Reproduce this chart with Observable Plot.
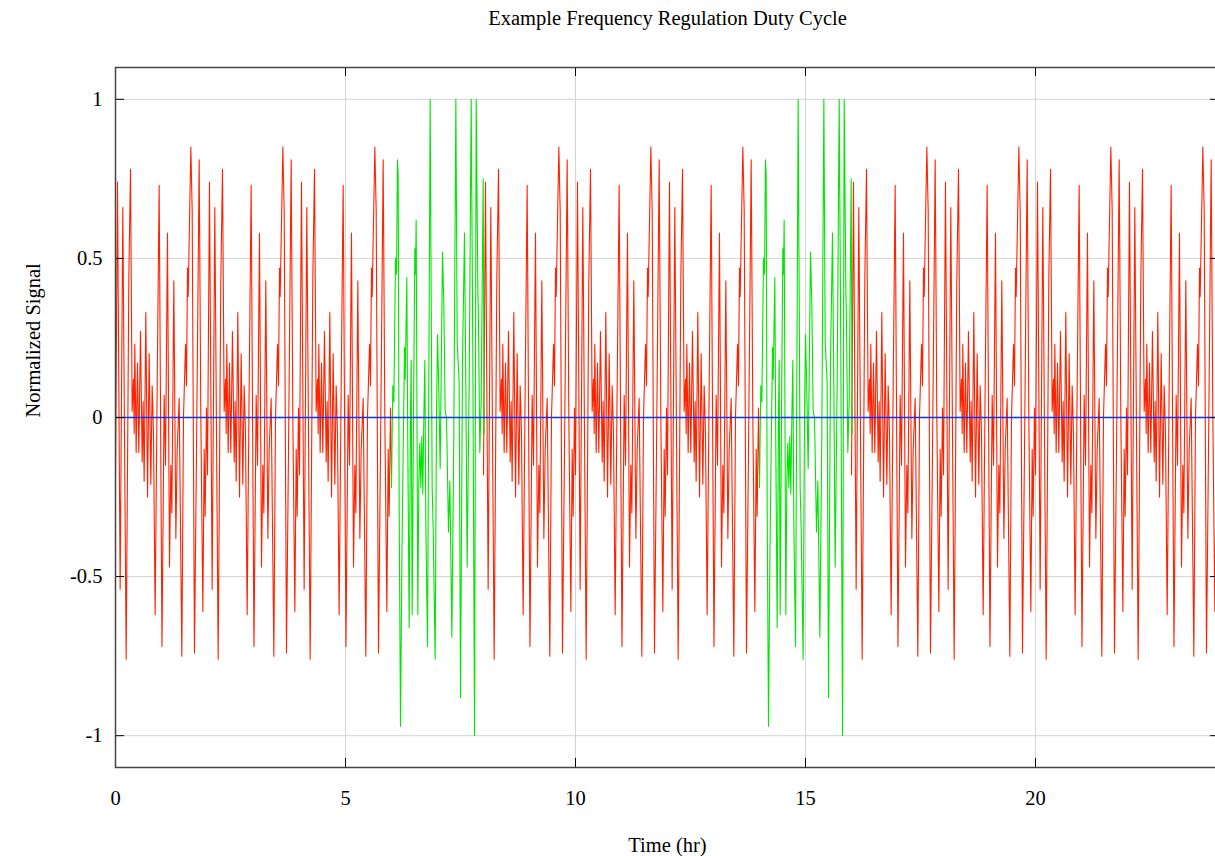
<!DOCTYPE html>
<html>
<head>
<meta charset="utf-8">
<script src="https://cdn.jsdelivr.net/npm/d3@7"></script>
<script src="https://cdn.jsdelivr.net/npm/@observablehq/plot@0.6"></script>
<style>
  html, body { margin: 0; padding: 0; background: #fff; overflow: hidden; }
</style>
</head>
<body>
<div id="chart"></div>
<script>
// ---- Data ----
// One 2-hour cycle of the (red) regulation signal: time offset within cycle (hr) and value
const redCycleTime = [0.000, 0.043, 0.101, 0.159, 0.232, 0.290, 0.326, 0.362, 0.391, 0.406,
  0.420, 0.449, 0.478, 0.507, 0.543, 0.580, 0.601, 0.623, 0.659, 0.696,
  0.732, 0.768, 0.797, 0.826, 0.862, 0.906, 0.949, 1.010, 1.058, 1.087,
  1.130, 1.174, 1.203, 1.225, 1.268, 1.312, 1.341, 1.384, 1.442, 1.478,
  1.522, 1.543, 1.565, 1.580, 1.638, 1.667, 1.717, 1.768, 1.819, 1.855,
  1.899, 1.928, 1.949, 1.978, 2.000];
const redCycleValue = [-0.18, 0.74, -0.54, 0.66, -0.76, 0.44, 0.78, 0.02, 0.12, -0.05,
  0.23, -0.11, 0.17, -0.11, 0.27, -0.14, 0.05, -0.20, 0.33, -0.25,
  0.20, -0.21, 0.10, -0.05, -0.62, 0.10, 0.73, -0.72, 0.07, -0.15,
  0.58, -0.47, -0.15, -0.30, 0.43, -0.38, -0.10, 0.06, -0.75, 0.00,
  0.23, 0.10, 0.47, 0.38, 0.85, 0.65, -0.74, 0.00, 0.81, 0.00,
  -0.61, -0.10, -0.31, 0.03, -0.18];
// Start times (hr) of the red cycles
const redCycleStarts = [0, 2, 4, 8, 10, 12, 16, 18, 20, 22];

// The 2-hour (green) high-amplitude burst: time offset (hr) and value
const greenBurstTime = [0.000, 0.014, 0.029, 0.051, 0.087, 0.109, 0.130, 0.145, 0.167, 0.196,
  0.225, 0.254, 0.283, 0.297, 0.312, 0.333, 0.355, 0.384, 0.413, 0.428,
  0.449, 0.478, 0.507, 0.522, 0.536, 0.572, 0.594, 0.616, 0.638, 0.659,
  0.681, 0.703, 0.725, 0.746, 0.783, 0.804, 0.841, 0.862, 0.884, 0.906,
  0.949, 0.978, 1.000, 1.025, 1.058, 1.109, 1.138, 1.167, 1.196, 1.239,
  1.268, 1.312, 1.355, 1.399, 1.428, 1.471, 1.500, 1.544, 1.587, 1.616,
  1.645, 1.689, 1.732, 1.768, 1.805, 1.841, 1.877, 1.891, 1.920, 1.949,
  1.993, 2.014];
const greenBurstValue = [-0.22, -0.05, 0.10, 0.05, 0.50, 0.45, 0.81, 0.76, -0.30, -0.97,
  -0.46, -0.10, 0.22, 0.12, 0.25, 0.44, -0.10, -0.66, 0.00, 0.18,
  -0.62, 0.00, 0.53, 0.45, 0.62, -0.62, -0.20, -0.08, -0.22, -0.06,
  -0.24, 0.00, 0.18, -0.33, -0.72, -0.10, 1.00, 0.40, -0.22, -0.35,
  -0.76, 0.00, 0.26, 0.11, -0.16, 0.52, 0.35, 0.02, 0.00, -0.36,
  -0.20, -0.69, -0.05, 1.00, 0.24, 0.11, -0.88, 0.18, 0.58, 0.10,
  -0.47, 0.11, 1.00, 0.20, -1.00, 1.00, 0.40, 0.30, -0.11, 0.05,
  0.75, -0.05];
// Start times (hr) of the green bursts
const greenBurstStarts = [6, 14];

// Baseline (blue)
const baselineTime = [0, 24];
const baselineValue = [0, 0];

const xTicks = [0, 5, 10, 15, 20];
const yTicks = [-1, -0.5, 0, 0.5, 1];
const xTickLabels = ["0", "5", "10", "15", "20"];
const yTickLabels = ["-1", "-0.5", "0", "0.5", "1"];

const titleText = "Example Frequency Regulation Duty Cycle";
const xLabel = "Time (hr)";
const yLabel = "Normalized Signal";

// ---- Build tables ----
const redRows = [];
redCycleStarts.forEach(s => {
  const seg = s < 6 ? 0 : s < 14 ? 1 : 2;
  redCycleTime.forEach((t, i) => redRows.push({t: s + t, v: redCycleValue[i], seg}));
});
const greenRows = [];
greenBurstStarts.forEach((s, k) => {
  greenBurstTime.forEach((t, i) => greenRows.push({t: s + t, v: greenBurstValue[i], seg: k}));
});
const baseRows = baselineTime.map((t, i) => ({t, v: baselineValue[i]}));
const xFmt = d => xTickLabels[xTicks.indexOf(d)];
const yFmt = d => yTickLabels[yTicks.indexOf(d)];

// ---- Layout ----
const W = 1215, H = 856;
const mL = 115, mT = 67, mB = 89, mR = -4;
const frameW = W - mR - mL;
const frameH = H - mT - mB;
const font = "'Liberation Serif', 'Times New Roman', serif";

const chart = Plot.plot({
  width: W,
  height: H,
  marginLeft: mL,
  marginRight: mR,
  marginTop: mT,
  marginBottom: mB,
  style: {fontFamily: font, fontSize: "20px", color: "#000", background: "#fff", overflow: "visible"},
  x: {domain: [0, 24], label: null},
  y: {domain: [-1.1, 1.1], label: null},
  marks: [
    Plot.gridX(xTicks, {stroke: "#d4d4d4", strokeOpacity: 1, strokeWidth: 1}),
    Plot.gridY(yTicks, {stroke: "#d4d4d4", strokeOpacity: 1, strokeWidth: 1}),
    Plot.axisX(xTicks, {tickSize: 0, tickPadding: 23, fontSize: 20.5, fontFamily: font, tickFormat: xFmt, label: null}),
    Plot.axisY(yTicks, {tickSize: 0, tickPadding: 13, fontSize: 20.5, fontFamily: font, tickFormat: yFmt, label: null}),
    Plot.line(redRows, {x: "t", y: "v", z: "seg", stroke: "#ff2200", strokeWidth: 1.1}),
    Plot.line(greenRows, {x: "t", y: "v", z: "seg", stroke: "#00e600", strokeWidth: 1.1}),
    Plot.line(baseRows, {x: "t", y: "v", stroke: "#0a32ff", strokeWidth: 1.3}),
    // inward ticks on all four sides
    Plot.tickY(yTicks, {y: d => d, stroke: "#000", insetRight: frameW - 9}),
    Plot.tickY(yTicks, {y: d => d, stroke: "#000", insetLeft: frameW - 9}),
    Plot.tickX(xTicks, {x: d => d, stroke: "#000", insetBottom: frameH - 9}),
    Plot.tickX(xTicks, {x: d => d, stroke: "#000", insetTop: frameH - 9}),
    Plot.frame({stroke: "#444", strokeWidth: 1.5}),
    Plot.text([titleText], {frameAnchor: "top", dy: -49, text: d => d, fontSize: 20.5, fontFamily: font, fill: "#000", lineAnchor: "middle"}),
    Plot.text([xLabel], {frameAnchor: "bottom", dy: 78, text: d => d, fontSize: 20.5, fontFamily: font, fill: "#000", lineAnchor: "middle"}),
    Plot.text([yLabel], {frameAnchor: "left", dx: -82, rotate: -90, text: d => d, fontSize: 20.5, fontFamily: font, fill: "#000", lineAnchor: "middle"})
  ]
});
document.getElementById("chart").appendChild(chart);
</script>
</body>
</html>
